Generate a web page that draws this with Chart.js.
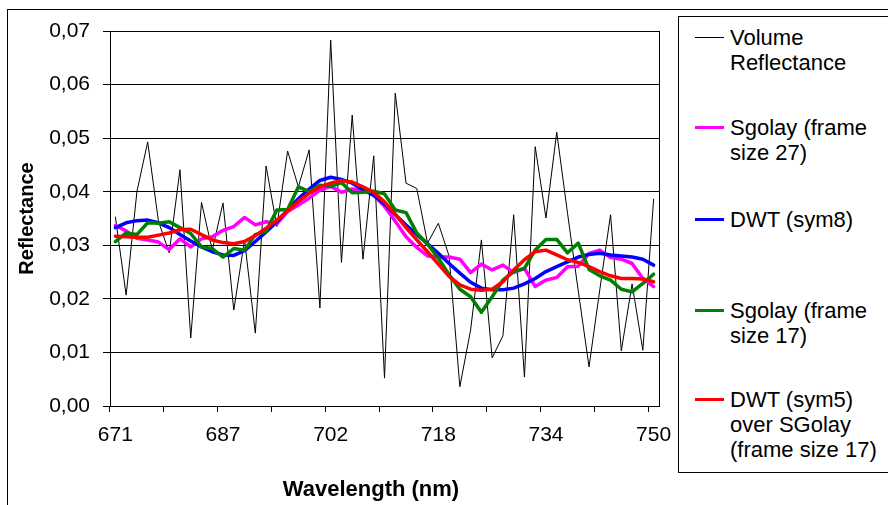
<!DOCTYPE html>
<html><head><meta charset="utf-8">
<script src="https://cdn.jsdelivr.net/npm/chart.js@4"></script>
<style>
html,body{margin:0;padding:0;background:#fff;width:888px;height:505px;overflow:hidden;font-family:"Liberation Sans",Arial,sans-serif;}
#wrap{position:relative;width:888px;height:505px;overflow:hidden;}
#frame{position:absolute;left:7px;top:9px;width:900px;height:520px;border:1px solid #000;box-sizing:border-box;}
canvas{position:absolute;left:0;top:0;}
#legend{position:absolute;left:678px;top:16px;width:260px;height:457px;border:1px solid #000;background:#fff;box-sizing:border-box;}
.item{position:absolute;left:0;width:250px;}
.swatch{position:absolute;left:16px;width:29px;}
.txt{position:absolute;left:51px;width:158px;font-size:22px;line-height:25px;color:#000;}
#xtitle{position:absolute;left:171px;width:400px;top:476px;text-align:center;font-weight:bold;font-size:22px;line-height:26px;color:#000;}
</style></head><body>
<div id="wrap"><div id="frame"></div><canvas id="c" width="888" height="505"></canvas><div id="legend"></div><div id="xtitle"></div></div>
<script>
const wavelengths = [671,673,674,676,677,679,680,682,684,685,
  687,688,690,691,693,694,696,697,699,701,
  702,704,705,707,708,710,712,713,715,716,
  718,719,721,723,724,726,727,729,731,732,
  734,736,737,739,740,742,744,745,747,748,750];

const volumeReflectance = [0.0353,0.0207,0.0400,0.0493,0.0345,0.0286,0.0441,0.0127,0.0380,0.0291,
  0.0379,0.0179,0.0310,0.0136,0.0448,0.0335,0.0476,0.0409,0.0478,0.0183,
  0.0683,0.0268,0.0543,0.0274,0.0467,0.0052,0.0584,0.0416,0.0406,0.0304,
  0.0341,0.0280,0.0036,0.0142,0.0310,0.0090,0.0131,0.0357,0.0054,0.0484,
  0.0351,0.0511,0.0360,0.0215,0.0073,0.0217,0.0357,0.0103,0.0228,0.0104,0.0386];

const sgolay27 = [0.0337,0.0327,0.0313,0.0310,0.0306,0.0292,0.0312,0.0297,0.0312,0.0316,
  0.0328,0.0335,0.0352,0.0338,0.0344,0.0340,0.0363,0.0375,0.0388,0.0403,
  0.0410,0.0399,0.0405,0.0403,0.0394,0.0373,0.0345,0.0316,0.0296,0.0280,
  0.0278,0.0278,0.0274,0.0249,0.0265,0.0254,0.0263,0.0249,0.0257,0.0223,
  0.0235,0.0240,0.0260,0.0261,0.0285,0.0291,0.0277,0.0274,0.0266,0.0238,0.0223];

const dwtSym8 = [0.0333,0.0342,0.0346,0.0347,0.0342,0.0333,0.0320,0.0308,0.0297,0.0288,
  0.0282,0.0281,0.0290,0.0307,0.0325,0.0344,0.0366,0.0387,0.0405,0.0421,
  0.0427,0.0423,0.0416,0.0404,0.0393,0.0377,0.0357,0.0338,0.0320,0.0303,
  0.0285,0.0266,0.0248,0.0231,0.0220,0.0217,0.0217,0.0220,0.0228,0.0238,
  0.0251,0.0260,0.0269,0.0278,0.0283,0.0285,0.0282,0.0280,0.0278,0.0274,0.0263];

const sgolay17 = [0.0307,0.0323,0.0320,0.0342,0.0341,0.0344,0.0333,0.0322,0.0297,0.0294,
  0.0278,0.0294,0.0291,0.0320,0.0326,0.0366,0.0367,0.0409,0.0400,0.0412,
  0.0410,0.0417,0.0398,0.0399,0.0401,0.0396,0.0366,0.0361,0.0323,0.0302,
  0.0276,0.0245,0.0218,0.0204,0.0175,0.0204,0.0235,0.0251,0.0257,0.0291,
  0.0311,0.0311,0.0286,0.0304,0.0255,0.0243,0.0235,0.0218,0.0213,0.0229,0.0246];

const dwtSym5OverSgolay = [0.0317,0.0316,0.0315,0.0315,0.0319,0.0323,0.0329,0.0330,0.0320,0.0310,
  0.0305,0.0303,0.0307,0.0318,0.0332,0.0347,0.0364,0.0382,0.0397,0.0409,
  0.0416,0.0421,0.0418,0.0409,0.0399,0.0381,0.0358,0.0333,0.0310,0.0288,
  0.0265,0.0242,0.0226,0.0218,0.0216,0.0218,0.0232,0.0254,0.0273,0.0288,
  0.0291,0.0282,0.0273,0.0268,0.0260,0.0251,0.0243,0.0238,0.0238,0.0237,0.0232];

const seriesLabels = ['Volume Reflectance','Sgolay (frame size 27)','DWT (sym8)','Sgolay (frame size 17)','DWT (sym5) over SGolay (frame size 17)'];
const yTicks = ['0,00','0,01','0,02','0,03','0,04','0,05','0,06','0,07'];
const xTitle = 'Wavelength (nm)';
const yTitle = 'Reflectance';

const FONT = '"Liberation Sans", Arial, sans-serif';
const colors = ['#000000','#FF00FF','#0000FF','#008000','#FF0000'];
const widths = [1,3.5,3.5,3.5,3.5];
const seriesData = [volumeReflectance,sgolay27,dwtSym8,sgolay17,dwtSym5OverSgolay];

const datasets = seriesData.map((d,k)=>({
  label: seriesLabels[k], data: d, borderColor: colors[k], backgroundColor: colors[k],
  borderWidth: widths[k], pointRadius: 0, tension: 0, fill: false, order: 5-k,
  borderCapStyle: 'round', borderJoinStyle: 'round'
}));

const plotBorder = {
  id:'plotBorder',
  afterDraw(c){
    const a=c.chartArea, g=c.ctx;
    g.save(); g.strokeStyle='#000'; g.lineWidth=1;
    const x=Math.round(a.right)+0.5;
    g.beginPath(); g.moveTo(x,Math.round(a.top)); g.lineTo(x,Math.round(a.bottom)+1); g.stroke();
    g.restore();
  }
};

new Chart(document.getElementById('c'), {
  type:'line',
  data:{labels: wavelengths, datasets},
  options:{
    responsive:false, animation:false, devicePixelRatio:1,
    layout:{padding:{left:7,top:31,right:229,bottom:0}},
    plugins:{legend:{display:false}, tooltip:{enabled:false}},
    scales:{
      x:{
        type:'category', offset:true,
        grid:{display:true, offset:true, drawOnChartArea:false, drawTicks:true, tickLength:6,
              color:(ctx)=> (ctx.index%5===0 && ctx.index<=50) ? '#000' : 'rgba(0,0,0,0)', lineWidth:1},
        border:{display:true,color:'#000',width:1},
        ticks:{autoSkip:false, maxRotation:0, minRotation:0, padding:11, color:'#000',
               font:{family:FONT,size:21},
               callback:(v,i)=> i%10===0 ? String(wavelengths[i]) : ''},
        title:{display:false},
        afterFit:(s)=>{s.height=99;}
      },
      y:{
        min:0, max:0.07,
        ticks:{stepSize:0.01, padding:13, color:'#000', font:{family:FONT,size:21},
               callback:(v,i)=> yTicks[Math.round(v*100)]},
        grid:{color:'#000', lineWidth:1, tickLength:7, drawTicks:true},
        border:{display:true,color:'#000',width:1},
        title:{display:true,text:yTitle,color:'#000',
               font:{family:FONT,size:20,weight:'bold'},padding:{top:8,bottom:0}},
        afterFit:(s)=>{s.width=103;}
      }
    }
  },
  plugins:[plotBorder]
});

document.getElementById('xtitle').textContent = xTitle;

// HTML legend
const legend = document.getElementById('legend');
const itemTops = [7.5, 97.5, 189.5, 280.5, 369.5];
seriesLabels.forEach((lab,k)=>{
  const it=document.createElement('div'); it.className='item'; it.style.top=itemTops[k]+'px';
  const sw=document.createElement('div'); sw.className='swatch';
  const th = k===0 ? 1 : 3;
  sw.style.height=th+'px'; sw.style.top=(12.5-th/2)+'px'; sw.style.background=colors[k];
  const tx=document.createElement('div'); tx.className='txt'; tx.textContent=lab;
  it.appendChild(sw); it.appendChild(tx); legend.appendChild(it);
});
</script>
</body></html>
